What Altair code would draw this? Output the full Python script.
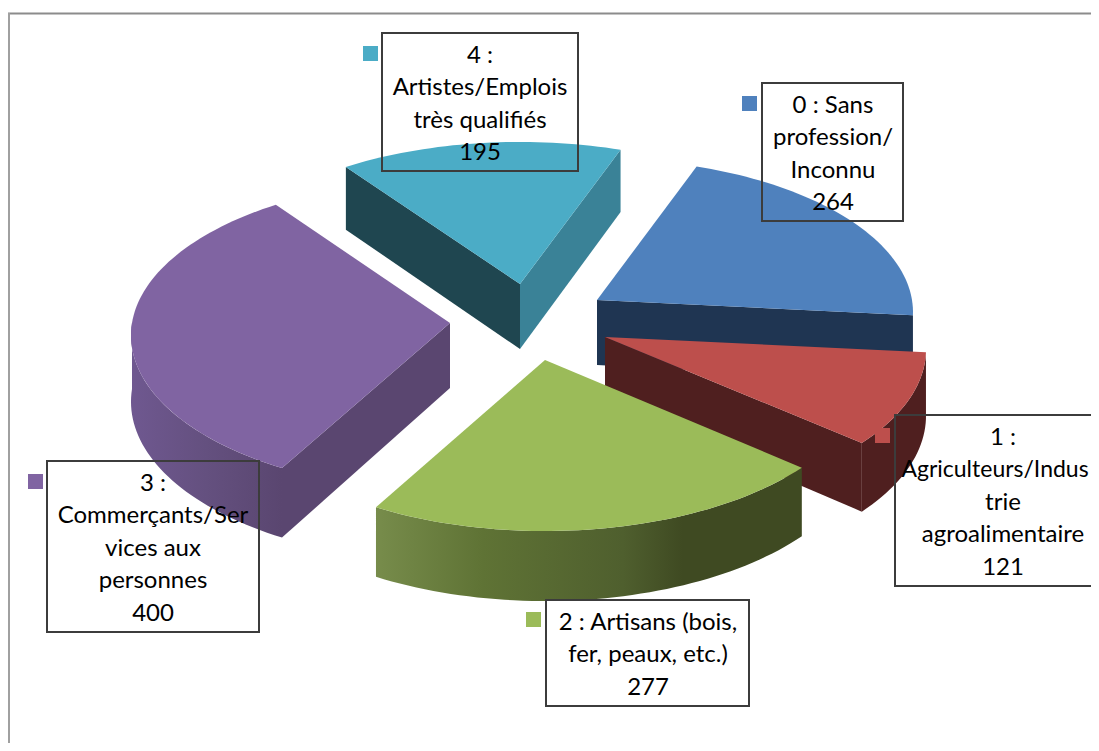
import math
import altair as alt
import pandas as pd

# ---- data -----------------------------------------------------------------
categories = ["0", "1", "2", "3", "4"]
values = [264, 121, 277, 400, 195]
label_lines = [
    ["0 : Sans", "profession/", "Inconnu", "264"],
    ["1 :", "Agriculteurs/Indus", "trie", "agroalimentaire", "121"],
    ["2 : Artisans (bois,", "fer, peaux, etc.)", "277"],
    ["3 :", "Commerçants/Ser", "vices aux", "personnes", "400"],
    ["4 :", "Artistes/Emplois", "très qualifiés", "195"],
]
top_colors = ["#4f81bd", "#bd4f4c", "#9bbb59", "#8064a2", "#4bacc6"]

# ---- layout (styles and placement of the exploded slices) ------------------
apex = [(597, 300), (605, 337), (545, 360), (450, 323), (520, 284)]
radius_x = [315, 320, 320, 318, 318]
squash_y = [0.985, 1.0, 1.015, 1.0, 0.99]
label_box = [(762, 903, 83, 221), (895, 1111, 415, 586), (546, 749, 600, 706),
             (47, 259, 461, 632), (382, 578, 33, 171)]
label_center = [(833, 105.5), (1003, 437.5), (648, 622.5), (153, 483.5), (480, 55.5)]
key_origin = [(742, 96), (875, 428), (526, 612), (28, 474), (363, 46)]
LINE = 32.6
FIRST_ANGLE = 20.0
DOMX, DOMY = [8, 1091], [743, 8]
X = alt.X("x:Q", scale=alt.Scale(domain=DOMX), axis=None)
Y = alt.Y("y:Q", scale=alt.Scale(domain=DOMY), axis=None)

total = sum(values)
edges = [FIRST_ANGLE]
for v in values:
    edges.append(edges[-1] + 360.0 * v / total)


def rim(i, deg, drop=False):
    """Project a rim point of slice i at clock angle deg."""
    t = math.radians(deg)
    v = -math.cos(t)
    ax, ay = apex[i]
    px = ax + radius_x[i] * math.sin(t) * (1 + 0.08 * v)
    py = ay + squash_y[i] * v * (156 + 12.5 * v)
    if drop:
        py += 66 + 4 * v
    return px, py


def hub(i, drop=False):
    ax, ay = apex[i]
    return ax, ay + (65 if drop else 0)


def arc(i, a, b, drop=False):
    n = max(2, int(abs(b - a) / 1.5))
    return [rim(i, a + (b - a) * k / n, drop) for k in range(n + 1)]


def poly(points, fill):
    df = pd.DataFrame(points, columns=["x", "y"])
    df["o"] = range(len(df))
    return alt.Chart(df).mark_line(fill=fill, strokeOpacity=0, clip=True).encode(
        x=X, y=Y, order="o:Q"
    )


def top(i):
    return poly([hub(i)] + arc(i, edges[i], edges[i + 1]), top_colors[i])


def wall(i, a, b, fill):
    return poly(arc(i, a, b) + arc(i, b, a, True), fill)


def cut(i, a, fill):
    return poly([hub(i), rim(i, a), rim(i, a, True), hub(i, True)], fill)


def grad(stops):
    return alt.LinearGradient(
        gradient="linear", x1=0, x2=1, y1=0, y2=0,
        stops=[alt.GradientStop(offset=o, color=c) for o, c in stops],
    )


layers = [
    # frame
    alt.Chart(pd.DataFrame({"x": [8], "x2": [1091], "y": [13.5]}))
    .mark_rule(color="#8c8c8c", strokeWidth=2, clip=True)
    .encode(x=X, x2="x2:Q", y=Y),
    alt.Chart(pd.DataFrame({"x": [9], "y": [13], "y2": [743]}))
    .mark_rule(color="#a0a0a0", strokeWidth=2, clip=True)
    .encode(x=X, y=Y, y2="y2:Q"),
    # slice 4 (teal)
    cut(4, edges[4], "#1f4650"),
    cut(4, edges[5], "#3a8297"),
    top(4),
    # slice 0 (blue)
    cut(0, edges[1], "#1f3552"),
    top(0),
    # slice 3 (purple)
    wall(3, edges[3], 270, grad([(0, "#6f5890"), (0.5, "#64507f"), (1, "#5a4670")])),
    cut(3, edges[3], "#5a4670"),
    top(3),
    # slice 1 (red)
    cut(1, edges[2], "#4f1f1f"),
    wall(1, edges[1], edges[2], "#4f1f1f"),
    top(1),
    # slice 2 (green)
    wall(2, edges[2], edges[3], grad([(0, "#778c4b"), (0.25, "#5f7335"), (0.58, "#4f5f2e"),
                                      (0.72, "#3f4a22"), (1, "#3f4a22")])),
    top(2),
]

# labels
boxes = pd.DataFrame(label_box, columns=["x", "x2", "y", "y2"])
layers.append(
    alt.Chart(boxes).mark_rect(fillOpacity=0, stroke="#3c3c3c", strokeWidth=2, clip=True)
    .encode(x=X, x2="x2:Q", y=Y, y2="y2:Q")
)
keys = pd.DataFrame(
    [(x, x + 15, y, y + 15, c) for (x, y), c in zip(key_origin, top_colors)],
    columns=["x", "x2", "y", "y2", "c"],
)
layers.append(
    alt.Chart(keys).mark_rect(clip=True)
    .encode(x=X, x2="x2:Q", y=Y, y2="y2:Q", color=alt.Color("c:N", scale=None))
)
rows, wide_rows = [], []
for (cx, cy), lines in zip(label_center, label_lines):
    for k, s in enumerate(lines):
        if s == "Agriculteurs/Indus":
            # kept whole inside the page's right edge
            wide_rows.append({"x": 995, "y": cy + k * LINE, "t": s})
        else:
            rows.append({"x": cx, "y": cy + k * LINE, "t": s})
for table, size in ((rows, 24), (wide_rows, 23)):
    layers.append(
        alt.Chart(pd.DataFrame(table))
        .mark_text(font="Lato", fontSize=size, color="#000000", align="center", baseline="middle")
        .encode(x=X, y=Y, text="t:N")
    )

chart = (
    alt.layer(*layers)
    .properties(width=1083, height=735, padding=0, background="#ffffff")
    .configure_view(stroke=None)
)
chart.save("out.html", embed_options={"renderer": "svg", "actions": False})
